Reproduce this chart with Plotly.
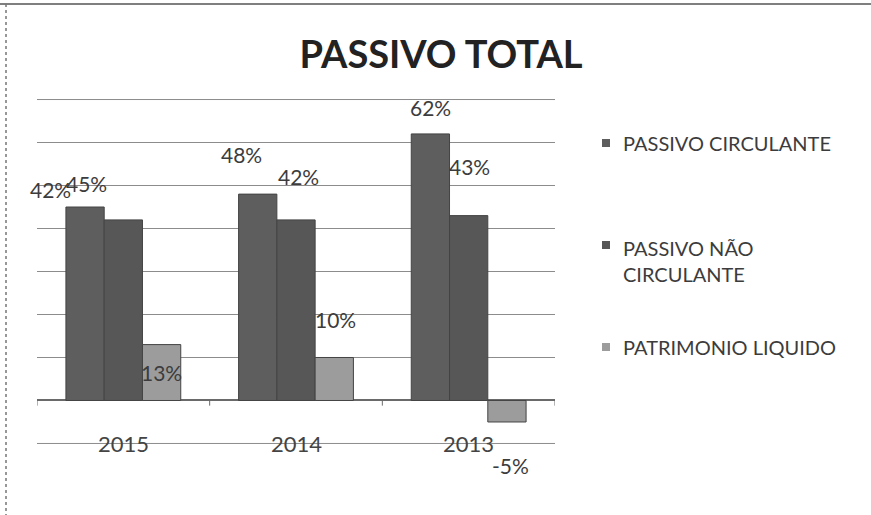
import plotly.graph_objects as go

# Data
years = ["2015", "2014", "2013"]
series_names = ["PASSIVO CIRCULANTE", "PASSIVO NÃO CIRCULANTE", "PATRIMONIO LIQUIDO"]
passivo_circulante = [45, 48, 62]
passivo_nao_circulante = [42, 42, 43]
patrimonio_liquido = [13, 10, -5]
y_ticks = [-10, 0, 10, 20, 30, 40, 50, 60, 70]

series_values = [passivo_circulante, passivo_nao_circulante, patrimonio_liquido]
colors = ["#5e5e5e", "#575757", "#9c9c9c"]

W, H = 871, 515
L, R, T, B = 37, 316, 99, 71
plot_w = W - L - R
plot_h = H - T - B


def px_x(px):
    return (px - L) / plot_w


def px_y(py):
    return (H - B - py) / plot_h


FONT = "Lato, Calibri, sans-serif"

fig = go.Figure()
for name, vals, col in zip(series_names, series_values, colors):
    fig.add_trace(go.Bar(
        x=years, y=vals, name=name,
        marker=dict(color=col, line=dict(color="#444444", width=1)),
        showlegend=False, hoverinfo="x+y+name",
    ))

# Data labels, placed freely around each bar (offsets in px from the bar end)
bar_px = 38
label_offsets = [
    [(1, -24), (-17, -40), (0, -26)],
    [(-73, -30), (2, -43), (1, -49)],
    [(0, 28), (1, -38), (4, 44)],
]
annotations = []
for s, (vals, offs) in enumerate(zip(series_values, label_offsets)):
    for i, (v, (dx, dy)) in enumerate(zip(vals, offs)):
        annotations.append(dict(
            x=i, y=v, xref="x", yref="y", text=f"{v}%", showarrow=False,
            xshift=(s - 1) * bar_px + dx, yshift=-dy,
            font=dict(family=FONT, size=21, color="#3c3c3c"),
        ))

# Category labels sit on the lowest gridline
for i, yr in enumerate(years):
    annotations.append(dict(
        x=i, y=y_ticks[0], xref="x", yref="y", text=yr, showarrow=False,
        font=dict(family=FONT, size=22, color="#444444"),
    ))

# Legend entries
legend_rows = [(143, "PASSIVO CIRCULANTE"), (261, "PASSIVO NÃO<br>CIRCULANTE"), (347, "PATRIMONIO LIQUIDO")]
legend_marker_y = [143, 245, 347]
shapes = []
for (cy, label), my, col in zip(legend_rows, legend_marker_y, colors):
    annotations.append(dict(
        x=px_x(621), y=px_y(cy), xref="paper", yref="paper", text=label,
        showarrow=False, xanchor="left", yanchor="middle", align="left",
        font=dict(family=FONT, size=20, color="#3c3c3c"),
    ))
    shapes.append(dict(
        type="rect", xref="paper", yref="paper",
        x0=px_x(602), x1=px_x(610), y0=px_y(my - 4), y1=px_y(my + 4),
        fillcolor=col, line=dict(width=0),
    ))

# Outermost gridlines at the ends of the value range
for yv in (y_ticks[0], y_ticks[-1]):
    shapes.append(dict(type="line", xref="x", yref="y", layer="below",
                       x0=-0.5, x1=len(years) - 0.5, y0=yv, y1=yv,
                       line=dict(color="#8c8c8c", width=1)))

# Small tick marks on the baseline between categories
for b in [-0.5, 0.5, 1.5, 2.5]:
    shapes.append(dict(type="line", xref="x", yref="y",
                       x0=b, x1=b, y0=0, y1=-1.2,
                       line=dict(color="#6a6a6a", width=1)))

# Chart frame (top and left edges)
shapes.append(dict(type="line", xref="paper", yref="paper",
                   x0=px_x(0), x1=px_x(W), y0=px_y(4), y1=px_y(4),
                   line=dict(color="#555555", width=1.5)))
shapes.append(dict(type="line", xref="paper", yref="paper",
                   x0=px_x(6), x1=px_x(6), y0=px_y(4), y1=px_y(H),
                   line=dict(color="#777777", width=1.5, dash="dot")))

fig.update_layout(
    width=W, height=H,
    margin=dict(l=L, r=R, t=T, b=B, pad=0),
    paper_bgcolor="white", plot_bgcolor="white",
    barmode="group", bargap=0.335, bargroupgap=0,
    title=dict(text="<b>PASSIVO TOTAL</b>", x=441 / W, xanchor="center",
               y=1 - 55 / H, yanchor="middle",
               font=dict(family=FONT, size=38, color="#222222")),
    xaxis=dict(
        type="category", categoryorder="array", categoryarray=years,
        showgrid=False, showticklabels=False, showline=False, ticks="",
        range=[-0.5, len(years) - 0.5],
    ),
    yaxis=dict(
        range=[y_ticks[0] - 0.12, y_ticks[-1] + 0.12], tickvals=y_ticks,
        showticklabels=False, showgrid=True, gridcolor="#8c8c8c",
        gridwidth=1, zeroline=True, zerolinecolor="#6a6a6a", zerolinewidth=1.5,
        showline=False, ticks="",
    ),
    annotations=annotations, shapes=shapes,
)

fig.write_html("out.html")
